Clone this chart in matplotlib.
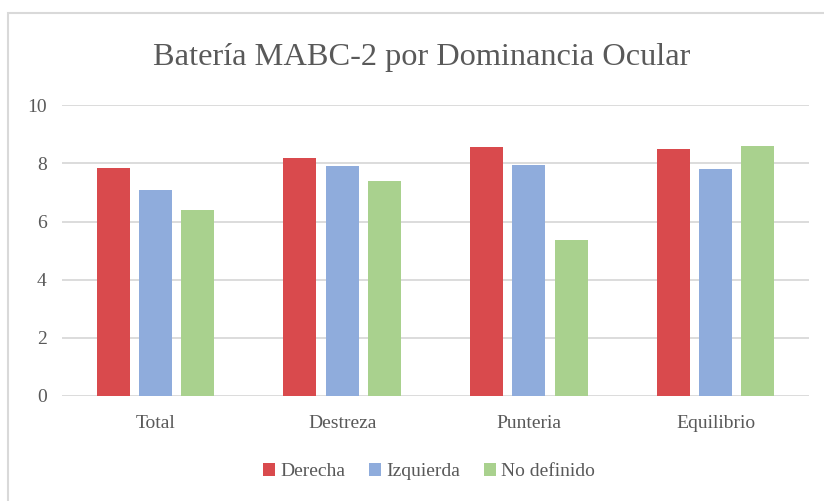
import numpy as np
import matplotlib
matplotlib.use('Agg')
import matplotlib.pyplot as plt
from matplotlib.patches import Rectangle

plt.rcParams['font.family'] = ['Liberation Serif', 'DejaVu Serif']

categories = ['Total', 'Destreza', 'Punteria', 'Equilibrio']
derecha = [7.83, 8.18, 8.56, 8.51]
izquierda = [7.09, 7.91, 7.95, 7.80]
no_definido = [6.40, 7.39, 5.37, 8.59]

series_names = ['Derecha', 'Izquierda', 'No definido']
colors = ['#D94A4D', '#8FACDC', '#A9D18E']
text_color = '#595959'

fig = plt.figure(figsize=(8.24, 5.01), dpi=100)
ax = fig.add_axes([0.0752, 0.2096, 0.9066, 0.5802])

# chart border (top and left visible)
fig.patches.append(Rectangle((8 / 824, -0.1), 1.2, 1 - 13 / 501 + 0.1,
                             transform=fig.transFigure, fill=False,
                             edgecolor='#D9D9D9', linewidth=1.5))

x = np.arange(len(categories))
bar_width = 0.177
step = 0.2265
for i, (vals, name, col) in enumerate(zip([derecha, izquierda, no_definido], series_names, colors)):
    ax.bar(x + (i - 1) * step, vals, width=bar_width, color=col, label=name, zorder=3)

ax.set_xlim(-0.5, len(categories) - 0.5)
ax.set_ylim(0, 10)
ax.set_yticks(range(0, 11, 2))
ax.grid(axis='y', color='#D9D9D9', linewidth=1.3, zorder=0)
for s in ax.spines.values():
    s.set_visible(False)
ax.tick_params(axis='both', length=0, colors=text_color, labelsize=14)
ax.tick_params(axis='y', pad=11)
ax.tick_params(axis='x', pad=14)
ax.set_xticks(x)
ax.set_xticklabels(categories)

fig.text(0.512, 0.885, 'Batería MABC-2 por Dominancia Ocular', ha='center', va='center',
         fontsize=23.3, color=text_color)

leg = fig.legend(loc='center', bbox_to_anchor=(0.521, 0.058), ncol=3, frameon=False,
                 fontsize=14, handlelength=0.6, handleheight=0.6, handletextpad=0.3,
                 columnspacing=1.2, labelcolor=text_color)

fig.savefig('out.png', dpi=100)
